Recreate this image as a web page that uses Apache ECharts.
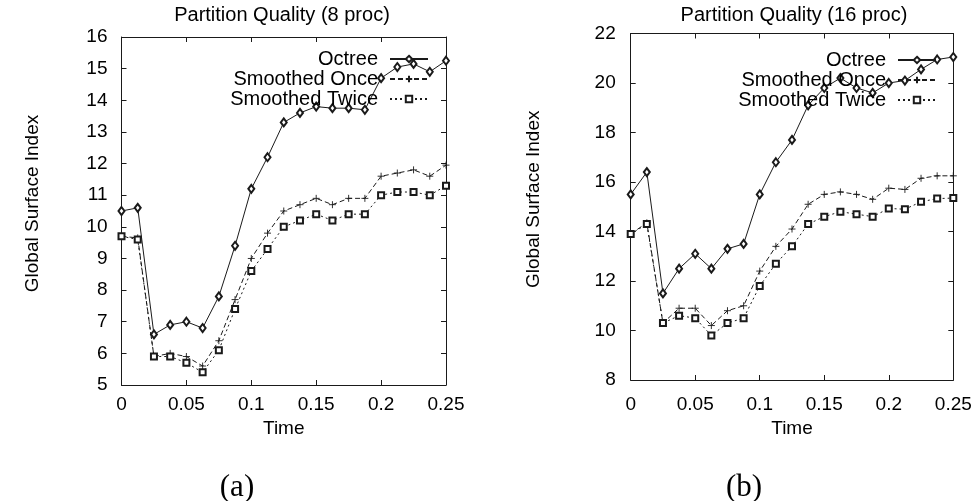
<!DOCTYPE html>
<html><head><meta charset="utf-8">
<script src="https://cdn.jsdelivr.net/npm/echarts@6/dist/echarts.min.js"></script>
<style>html,body{margin:0;padding:0;background:#fff}#c{width:975px;height:501px}</style>
</head><body><div id="c"></div>
<script>
// ---- data ----
const times = [0, 0.0125, 0.025, 0.0375, 0.05, 0.0625, 0.075, 0.0875, 0.1, 0.1125, 0.125,
  0.1375, 0.15, 0.1625, 0.175, 0.1875, 0.2, 0.2125, 0.225, 0.2375, 0.25];
const seriesNames = ['Octree', 'Smoothed Once', 'Smoothed Twice'];
// (a) 8 processors
const octree8 = [10.5, 10.6, 6.6, 6.9, 7.0, 6.8, 7.8, 9.4, 11.2, 12.2, 13.3, 13.6, 13.8, 13.75, 13.75, 13.7, 14.7, 15.05, 15.15, 14.9, 15.25];
const once8   = [9.7, 9.65, 5.9, 6.0, 5.9, 5.6, 6.4, 7.7, 9.0, 9.8, 10.5, 10.7, 10.9, 10.7, 10.9, 10.9, 11.6, 11.7, 11.8, 11.6, 11.95];
const twice8  = [9.7, 9.6, 5.9, 5.9, 5.7, 5.4, 6.1, 7.4, 8.6, 9.3, 10.0, 10.2, 10.4, 10.2, 10.4, 10.4, 11.0, 11.1, 11.1, 11.0, 11.3];
// (b) 16 processors
const octree16 = [15.5, 16.4, 11.5, 12.5, 13.1, 12.5, 13.3, 13.5, 15.5, 16.8, 17.7, 19.1, 19.8, 20.2, 19.8, 19.6, 20.0, 20.1, 20.55, 20.95, 21.05];
const once16   = [13.9, 14.35, 10.3, 10.9, 10.9, 10.2, 10.8, 11.0, 12.4, 13.4, 14.1, 15.1, 15.5, 15.6, 15.5, 15.3, 15.75, 15.7, 16.15, 16.25, 16.25];
const twice16  = [13.9, 14.3, 10.3, 10.6, 10.5, 9.8, 10.3, 10.5, 11.8, 12.7, 13.4, 14.3, 14.6, 14.8, 14.7, 14.6, 14.93, 14.9, 15.2, 15.33, 15.35];
// axis ticks
const xTicks = [0, 0.05, 0.1, 0.15, 0.2, 0.25];
const yTicksA = [5, 6, 7, 8, 9, 10, 11, 12, 13, 14, 15, 16];
const yTicksB = [8, 10, 12, 14, 16, 18, 20, 22];
const titles = ['Partition Quality (8 proc)', 'Partition Quality (16 proc)'];
const panelLabels = ['(a)', '(b)'];
const xName = 'Time';
const yName = 'Global Surface Index';

// ---- styles ----
const FONT = "'Liberation Sans', Arial, Helvetica, sans-serif";
const SERIF = "'Liberation Serif', 'DejaVu Serif', serif";
const INK = '#1a1a1a';
const lineTypes = ['solid', [5, 3], [2, 3]];
const symbols = ['emptyDiamond', 'path://M0,5L10,5M5,0L5,10', 'emptyRect'];
const symbolSizes = [[6, 8], 7, 6];

function pairs(ys) { return times.map((t, i) => [t, ys[i]]); }

function mkSeries(name, k, ys, axIdx) {
  return {
    type: 'line', name: name, xAxisIndex: axIdx, yAxisIndex: axIdx,
    data: pairs(ys), symbol: symbols[k], symbolSize: symbolSizes[k],
    showAllSymbol: true, silent: true,
    lineStyle: { color: INK, width: 1, type: lineTypes[k] },
    itemStyle: { color: INK, borderColor: INK, borderWidth: 0.9 },
    emphasis: { disabled: true }
  };
}

const tickStyle = { show: true, inside: true, length: 5, lineStyle: { color: INK, width: 1 } };
const lineAx = { show: true, onZero: false, lineStyle: { color: INK, width: 1 } };
const labelStyle = (m) => ({ show: true, margin: m, color: '#000', fontSize: 19, fontFamily: FONT });

function xAxes(g, ticks, margin, gap) {
  const base = { gridIndex: g, type: 'value', min: ticks[0], max: ticks[ticks.length - 1],
    interval: ticks[1] - ticks[0], splitLine: { show: false }, axisLine: lineAx, axisTick: tickStyle };
  return [
    Object.assign({}, base, { position: 'bottom', axisLabel: labelStyle(margin),
      name: xName, nameLocation: 'middle', nameGap: gap,
      nameTextStyle: { color: '#000', fontSize: 19, fontFamily: FONT } }),
    Object.assign({}, base, { position: 'top', axisLabel: { show: false } })
  ];
}
function yAxes(g, ticks, margin, gap) {
  const base = { gridIndex: g, type: 'value', min: ticks[0], max: ticks[ticks.length - 1],
    interval: ticks[1] - ticks[0], splitLine: { show: false }, axisLine: lineAx, axisTick: tickStyle };
  return [
    Object.assign({}, base, { position: 'left', axisLabel: labelStyle(margin),
      name: yName, nameLocation: 'middle', nameGap: gap,
      nameTextStyle: { color: '#000', fontSize: 19, fontFamily: FONT, padding: [0, 0, 0, 15] } }),
    Object.assign({}, base, { position: 'right', axisLabel: { show: false } })
  ];
}

function mkLegend(right, top) {
  return {
    data: seriesNames, orient: 'vertical', align: 'right', right: right, top: top,
    padding: 0, itemGap: 0, itemWidth: 38, itemHeight: 8, selectedMode: false,
    textStyle: { fontSize: 20, color: '#000', fontFamily: FONT, lineHeight: 20, padding: [0, 7, 0, 0] }
  };
}
function mkTitle(text, x, y, size, fam) {
  return { text: text, left: x, top: y, textAlign: 'center', textVerticalAlign: 'middle', padding: 0,
    textStyle: { fontSize: size, fontWeight: 'normal', color: '#000', fontFamily: fam } };
}

const chart = echarts.init(document.getElementById('c'), null, { renderer: 'canvas' });
chart.setOption({
  backgroundColor: '#fff',
  animation: false,
  title: [
    mkTitle(titles[0], 282, 15, 20, FONT),
    mkTitle(titles[1], 794, 15, 20, FONT),
    mkTitle(panelLabels[0], 237, 488, 31, SERIF),
    mkTitle(panelLabels[1], 744, 488, 31, SERIF)
  ],
  legend: [mkLegend(546, 49), mkLegend(38, 50)],
  grid: [
    { left: 121.5, top: 37, width: 324.5, height: 348 },
    { left: 630.7, top: 33.5, width: 322.6, height: 346.5 }
  ],
  xAxis: xAxes(0, xTicks, 10, 30).concat(xAxes(1, xTicks, 15, 35)),
  yAxis: yAxes(0, yTicksA, 14, 79).concat(yAxes(1, yTicksB, 15, 87)),
  series: [
    mkSeries(seriesNames[0], 0, octree8, 0),
    mkSeries(seriesNames[1], 1, once8, 0),
    mkSeries(seriesNames[2], 2, twice8, 0),
    mkSeries(seriesNames[0], 0, octree16, 2),
    mkSeries(seriesNames[1], 1, once16, 2),
    mkSeries(seriesNames[2], 2, twice16, 2)
  ]
});
</script></body></html>
